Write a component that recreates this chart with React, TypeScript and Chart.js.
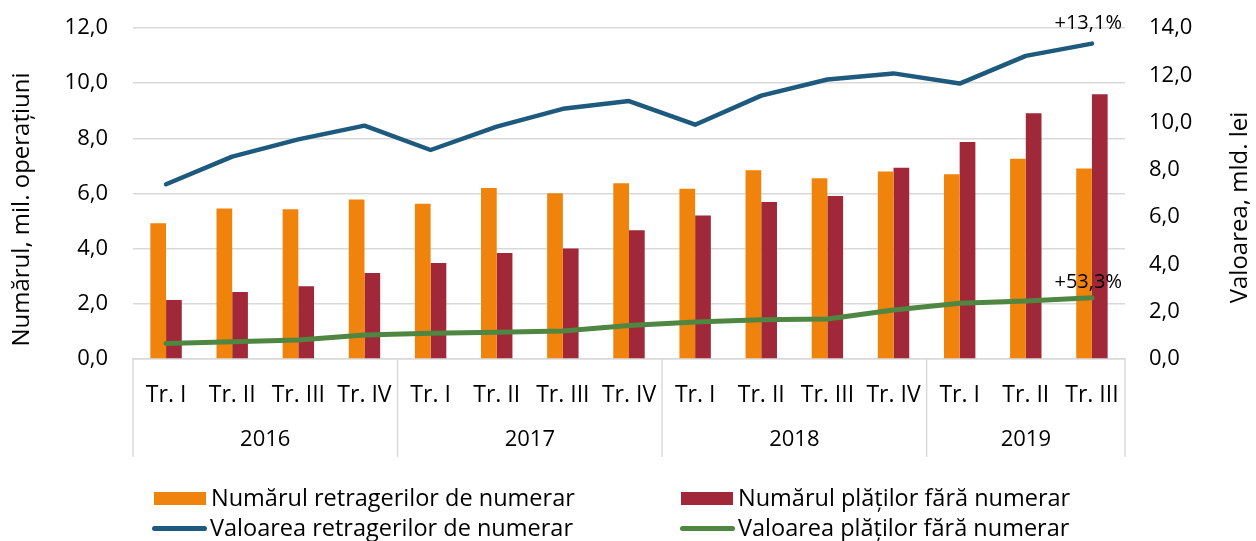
import React, { useEffect, useRef } from "react";
import { Chart, registerables } from "chart.js";

Chart.register(...registerables);

const quarters = [
  "Tr. I", "Tr. II", "Tr. III", "Tr. IV",
  "Tr. I", "Tr. II", "Tr. III", "Tr. IV",
  "Tr. I", "Tr. II", "Tr. III", "Tr. IV",
  "Tr. I", "Tr. II", "Tr. III",
];
const years = ["2016", "2017", "2018", "2019"];
const quartersPerYear = [4, 4, 4, 3];

// mil. operațiuni (left axis)
const cashWithdrawalCount = [4.92, 5.46, 5.43, 5.78, 5.63, 6.2, 6.01, 6.37, 6.17, 6.84, 6.55, 6.8, 6.7, 7.26, 6.91];
const cashlessPaymentCount = [2.14, 2.43, 2.64, 3.12, 3.48, 3.84, 4.01, 4.67, 5.2, 5.69, 5.91, 6.93, 7.87, 8.91, 9.6];
// mld. lei (right axis)
const cashWithdrawalValue = [7.39, 8.56, 9.29, 9.87, 8.84, 9.83, 10.58, 10.91, 9.91, 11.14, 11.82, 12.08, 11.65, 12.82, 13.34];
const cashlessPaymentValue = [0.66, 0.73, 0.8, 1.02, 1.09, 1.13, 1.18, 1.42, 1.57, 1.66, 1.69, 2.07, 2.36, 2.45, 2.59];

const seriesLabels = [
  "Numărul retragerilor de numerar",
  "Numărul plăților fără numerar",
  "Valoarea retragerilor de numerar",
  "Valoarea plăților fără numerar",
];
const leftAxisTitle = "Numărul, mil. operațiuni";
const rightAxisTitle = "Valoarea, mld. lei";
const growthLabels = ["+13,1%", "+53,3%"];

const COLORS = {
  orange: "#F0830B",
  red: "#A12838",
  blue: "#1E5A7E",
  green: "#4F8642",
  grid: "#D9D9D9",
  text: "#000000",
};
const FONT = "'Open Sans', sans-serif";

const fmt = (v: number) => v.toFixed(1).replace(".", ",");

const extrasPlugin = {
  id: "extras",
  afterDraw(chart: any) {
    const ctx = chart.ctx;
    const x = chart.scales.x;
    const area = chart.chartArea;
    ctx.save();
    // year group separators and labels
    ctx.strokeStyle = COLORS.grid;
    ctx.lineWidth = 1.5;
    let start = 0;
    const bounds: number[] = [0];
    quartersPerYear.forEach((n) => {
      start += n;
      bounds.push(start);
    });
    bounds.forEach((b) => {
      const px = x.getPixelForValue(b - 0.5);
      ctx.beginPath();
      ctx.moveTo(px, area.bottom);
      ctx.lineTo(px, area.bottom + 98);
      ctx.stroke();
    });
    ctx.fillStyle = COLORS.text;
    ctx.font = `22px ${FONT}`;
    ctx.textAlign = "center";
    ctx.textBaseline = "middle";
    start = 0;
    years.forEach((y, i) => {
      const n = quartersPerYear[i];
      const mid = x.getPixelForValue(start + (n - 1) / 2);
      ctx.fillText(y, mid, area.bottom + 81);
      start += n;
    });
    // axis titles
    const midY = (area.top + area.bottom) / 2 + 16;
    ctx.font = `24px ${FONT}`;
    ctx.save();
    ctx.translate(22, midY);
    ctx.rotate(-Math.PI / 2);
    ctx.fillText(leftAxisTitle, 0, 0);
    ctx.restore();
    ctx.save();
    ctx.translate(1240, midY - 2);
    ctx.rotate(-Math.PI / 2);
    ctx.fillText(rightAxisTitle, 0, 0);
    ctx.restore();
    // growth annotations
    ctx.font = `20px ${FONT}`;
    ctx.textAlign = "right";
    const blueMeta = chart.getDatasetMeta(2);
    const greenMeta = chart.getDatasetMeta(3);
    const bp = blueMeta.data[blueMeta.data.length - 1];
    const gp = greenMeta.data[greenMeta.data.length - 1];
    ctx.fillText(growthLabels[0], bp.x + 30, bp.y - 20);
    ctx.fillText(growthLabels[1], gp.x + 30, gp.y - 15);
    ctx.restore();
  },
};

export default function App() {
  const canvasRef = useRef<HTMLCanvasElement | null>(null);

  useEffect(() => {
    document.body.style.margin = "0";
    const canvas = canvasRef.current;
    if (!canvas) return;
    const chart = new Chart(canvas, {
      type: "bar",
      data: {
        labels: quarters,
        datasets: [
          {
            type: "bar",
            label: seriesLabels[0],
            data: cashWithdrawalCount,
            backgroundColor: COLORS.orange,
            yAxisID: "y",
            order: 2,
            categoryPercentage: 0.475,
            barPercentage: 1,
          },
          {
            type: "bar",
            label: seriesLabels[1],
            data: cashlessPaymentCount,
            backgroundColor: COLORS.red,
            yAxisID: "y",
            order: 2,
            categoryPercentage: 0.475,
            barPercentage: 1,
          },
          {
            type: "line",
            label: seriesLabels[2],
            data: cashWithdrawalValue,
            borderColor: COLORS.blue,
            backgroundColor: COLORS.blue,
            borderWidth: 4.5,
            pointRadius: 0,
            tension: 0,
            yAxisID: "y1",
            order: 1,
            borderCapStyle: "round",
            borderJoinStyle: "round",
          },
          {
            type: "line",
            label: seriesLabels[3],
            data: cashlessPaymentValue,
            borderColor: COLORS.green,
            backgroundColor: COLORS.green,
            borderWidth: 5,
            pointRadius: 0,
            tension: 0,
            yAxisID: "y1",
            order: 0,
            borderCapStyle: "round",
            borderJoinStyle: "round",
          },
        ],
      },
      options: {
        responsive: false,
        animation: false,
        layout: { padding: { top: 28, left: 0, right: 0, bottom: 0 } },
        plugins: {
          legend: { display: false },
          tooltip: { enabled: false },
        },
        scales: {
          x: {
            grid: { display: false },
            border: { display: true, color: COLORS.grid, width: 1.5 },
            ticks: {
              font: { family: FONT, size: 23 },
              color: COLORS.text,
              padding: 15,
              maxRotation: 0,
              autoSkip: false,
            },
            afterFit: (s: any) => {
              s.height = 182;
            },
          },
          y: {
            position: "left",
            min: 0,
            max: 12,
            grid: { color: COLORS.grid, lineWidth: 1.5, drawTicks: false },
            border: { display: false },
            ticks: {
              stepSize: 2,
              padding: 25,
              font: { family: FONT, size: 22 },
              color: COLORS.text,
              callback: (v: any) => fmt(Number(v)),
            },
            afterFit: (s: any) => {
              s.width = 133;
              s.paddingTop = 0;
              s.paddingBottom = 0;
            },
          },
          y1: {
            position: "right",
            min: 0,
            max: 14,
            grid: { drawOnChartArea: false, drawTicks: false },
            border: { display: false },
            ticks: {
              stepSize: 2,
              padding: 24,
              font: { family: FONT, size: 22 },
              color: COLORS.text,
              callback: (v: any) => fmt(Number(v)),
            },
            afterFit: (s: any) => {
              s.width = 131;
              s.paddingTop = 0;
              s.paddingBottom = 0;
            },
          },
        },
      },
      plugins: [extrasPlugin],
    });
    return () => chart.destroy();
  }, []);

  const legendText: React.CSSProperties = {
    position: "absolute",
    fontFamily: FONT,
    fontSize: 23.5,
    lineHeight: "28px",
    color: COLORS.text,
    whiteSpace: "nowrap",
  };
  const items = [
    { label: seriesLabels[0], color: COLORS.orange, kind: "bar", x: 154, y: 498 },
    { label: seriesLabels[1], color: COLORS.red, kind: "bar", x: 681, y: 498 },
    { label: seriesLabels[2], color: COLORS.blue, kind: "line", x: 152, y: 528 },
    { label: seriesLabels[3], color: COLORS.green, kind: "line", x: 680, y: 528 },
  ];

  return (
    <div style={{ position: "relative", width: 1256, height: 541, background: "#fff", overflow: "hidden" }}>
      <canvas ref={canvasRef} width={1256} height={541} style={{ display: "block" }} />
      {items.map((it, i) => (
        <React.Fragment key={i}>
          {it.kind === "bar" ? (
            <div
              style={{
                position: "absolute",
                left: it.x,
                top: it.y - 6.5,
                width: 52,
                height: 13,
                background: it.color,
              }}
            />
          ) : (
            <div
              style={{
                position: "absolute",
                left: it.x,
                top: it.y - 2.5,
                width: 55,
                height: 5,
                borderRadius: 3,
                background: it.color,
              }}
            />
          )}
          <div style={{ ...legendText, left: it.x + (it.kind === "bar" ? 57 : 58), top: it.y - 15 }}>{it.label}</div>
        </React.Fragment>
      ))}
    </div>
  );
}
